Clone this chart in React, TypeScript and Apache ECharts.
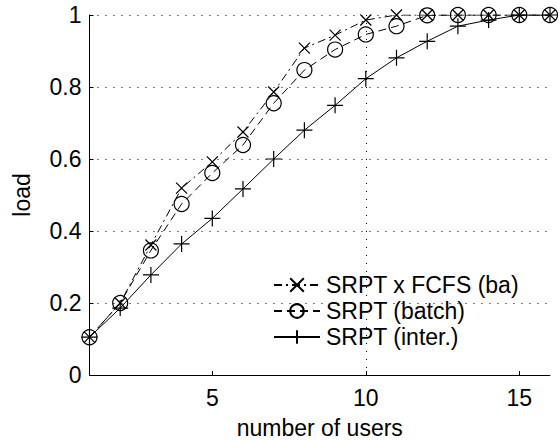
import React, { useEffect, useRef } from "react";
import * as echarts from "echarts";

const users = [1, 2, 3, 4, 5, 6, 7, 8, 9, 10, 11, 12, 13, 14, 15, 16];
const srptFcfs = [0.105, 0.2, 0.361, 0.519, 0.592, 0.675, 0.786, 0.908, 0.944, 0.986, 1.0, 1.0, 1.0, 1.0, 1.0, 1.0];
const srptBatch = [0.105, 0.2, 0.346, 0.475, 0.561, 0.639, 0.755, 0.847, 0.904, 0.946, 0.969, 0.999, 1.0, 1.0, 1.0, 1.0];
const srptInter = [0.105, 0.186, 0.278, 0.364, 0.435, 0.517, 0.6, 0.68, 0.749, 0.823, 0.881, 0.927, 0.969, 0.986, 1.0, 1.0];
const seriesNames = ["SRPT x FCFS (ba)", "SRPT (batch)", "SRPT (inter.)"];
const xTicks = [5, 10, 15];

const FONT = "Liberation Sans, Arial, Helvetica, sans-serif";
const CROSS = "path://M0,0L10,10M10,0L0,10";
const PLUS = "path://M5,0L5,10M0,5L10,5";

export default function App() {
  const ref = useRef<HTMLDivElement>(null);
  useEffect(() => {
    if (!ref.current) return;
    const chart = echarts.init(ref.current, null, { renderer: "svg" });
    const pairs = (vals: number[]) => users.map((u, i) => [u, vals[i]]);
    const markerStyle = { color: "transparent", borderColor: "#000", borderWidth: 1.2 };
    chart.setOption({
      animation: false,
      backgroundColor: "#fff",
      textStyle: { fontFamily: FONT, color: "#000" },
      grid: { left: 89.5, right: 10, top: 15, bottom: 66, containLabel: false, outerBoundsMode: "none" },
      legend: {
        orient: "vertical",
        left: 268,
        top: 268,
        itemWidth: 46,
        itemHeight: 17,
        itemGap: 2,
        data: seriesNames,
        textStyle: { fontSize: 23, fontFamily: FONT, color: "#000", lineHeight: 24, padding: [0, 0, 0, 1] },
      },
      xAxis: {
        type: "value",
        min: 1,
        max: 16,
        name: "number of users",
        nameLocation: "middle",
        nameGap: 41,
        nameTextStyle: { fontSize: 23, fontFamily: FONT, color: "#000" },
        axisLine: { lineStyle: { color: "#000", width: 1 } },
        axisTick: { inside: true, length: 4, customValues: xTicks, lineStyle: { color: "#000" } },
        axisLabel: { customValues: xTicks, fontSize: 23, fontFamily: FONT, color: "#000", margin: 11 },
        splitLine: {
          show: true,
          showMinLine: false,
          showMaxLine: false,
          lineStyle: { color: "#000", type: [1, 7], width: 1 },
        },
      },
      yAxis: {
        type: "value",
        min: 0,
        max: 1,
        interval: 0.2,
        name: "load",
        nameLocation: "middle",
        nameGap: 56,
        nameTextStyle: { fontSize: 23, fontFamily: FONT, color: "#000" },
        axisLine: { show: true, lineStyle: { color: "#000", width: 1 } },
        axisTick: { show: true, inside: true, length: 4, lineStyle: { color: "#000" } },
        axisLabel: { fontSize: 23, fontFamily: FONT, color: "#000", margin: 8 },
        splitLine: { show: true, lineStyle: { color: "#000", type: [1, 7], width: 1 } },
      },
      series: [
        {
          name: seriesNames[0],
          type: "line",
          data: pairs(srptFcfs),
          symbol: CROSS,
          symbolSize: 11,
          itemStyle: markerStyle,
          lineStyle: { color: "#000", width: 1, type: [8, 4, 2, 4] },
        },
        {
          name: seriesNames[1],
          type: "line",
          data: pairs(srptBatch),
          symbol: "circle",
          symbolSize: 15,
          itemStyle: markerStyle,
          lineStyle: { color: "#000", width: 1, type: [8, 5] },
        },
        {
          name: seriesNames[2],
          type: "line",
          data: pairs(srptInter),
          symbol: PLUS,
          symbolSize: 16,
          itemStyle: markerStyle,
          lineStyle: { color: "#000", width: 1, type: "solid" },
        },
      ],
    });
    return () => chart.dispose();
  }, []);
  return (
    <div
      ref={ref}
      style={{ position: "fixed", left: 0, top: 0, width: 560, height: 441, background: "#fff" }}
    />
  );
}
